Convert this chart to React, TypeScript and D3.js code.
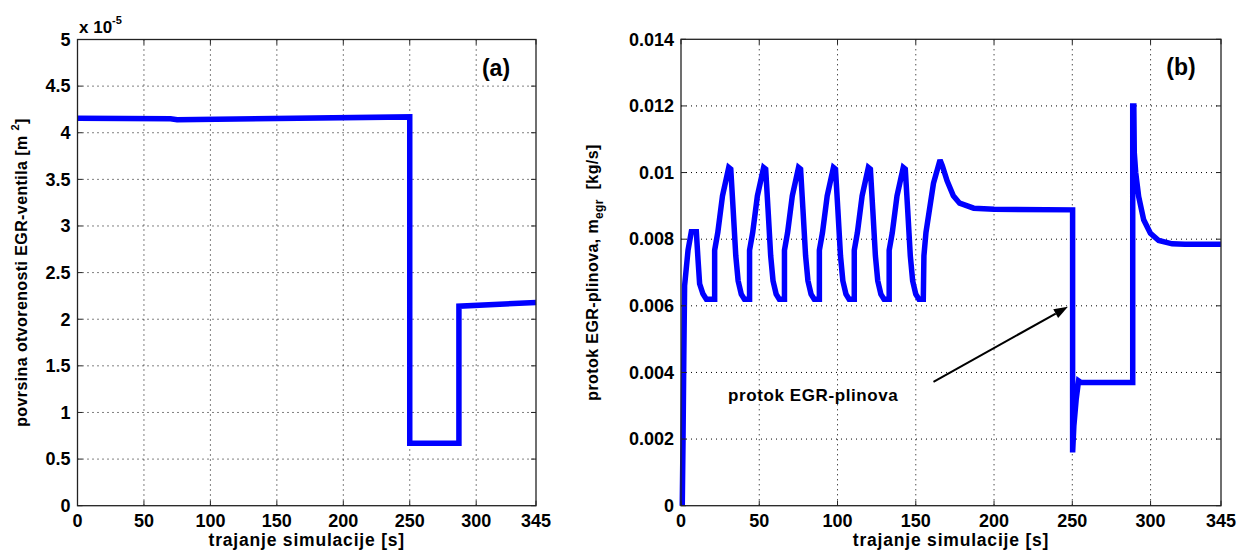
import React from "react";
import * as d3 from "d3";

// ---------- data ----------
const X_TICKS = [0, 50, 100, 150, 200, 250, 300, 345];
const A_Y_TICKS = [0, 0.5e-5, 1e-5, 1.5e-5, 2e-5, 2.5e-5, 3e-5, 3.5e-5, 4e-5, 4.5e-5, 5e-5];
const A_Y_LABELS = ["0", "0.5", "1", "1.5", "2", "2.5", "3", "3.5", "4", "4.5", "5"];
const B_Y_TICKS = [0, 0.002, 0.004, 0.006, 0.008, 0.01, 0.012, 0.014];
const B_Y_LABELS = ["0", "0.002", "0.004", "0.006", "0.008", "0.01", "0.012", "0.014"];

// panel (a): EGR valve opening area [m^2]
const aTime = [0, 70, 75, 250, 250, 287, 287, 345];
const aArea = [4.155e-5, 4.15e-5, 4.14e-5, 4.17e-5, 0.67e-5, 0.67e-5, 2.14e-5, 2.18e-5];

// panel (b): EGR mass flow [kg/s]
const bTime = [
  0.8, 1.3, 1.8, 2.3, 4.5, 6.6, 9.8, 10.9, 11.9, 14, 16.2, 21.5,
  21.5, 23.5, 26.5, 30.5, 31.8, 33.3, 35, 36.5, 38.5, 40.5, 43.8,
  43.8, 45.8, 48.8, 52.8, 54.1, 55.6, 57.3, 58.8, 60.8, 62.8, 66.1,
  66.1, 68.1, 71.1, 75.1, 76.4, 77.9, 79.6, 81.1, 83.1, 85.1, 88.4,
  88.4, 90.4, 93.4, 97.4, 98.7, 100.2, 101.9, 103.4, 105.4, 107.4, 110.7,
  110.7, 112.7, 115.7, 119.7, 121.0, 122.5, 124.2, 125.7, 127.7, 129.7, 133,
  133, 135, 138, 142, 143.3, 144.8, 146.5, 148, 150, 152, 154.8,
  155.2, 156.5, 161.3, 165.5, 167, 170, 174, 178, 187, 200, 250.2,
  250.2, 251, 252.5, 254, 255.5, 288.6,
  288.6, 289.3, 289.6, 290.5, 292.4, 295.6, 299.9, 305.2, 313.8, 322, 345,
];
const bFlow = [
  0, 0.002, 0.0045, 0.0066, 0.00767, 0.00822, 0.00822, 0.00737, 0.00666, 0.00636, 0.0062, 0.0062,
  0.00767, 0.0082, 0.0093, 0.01015, 0.0101, 0.0089, 0.0075, 0.00675, 0.00635, 0.0062, 0.0062,
  0.00767, 0.0082, 0.0093, 0.01015, 0.0101, 0.0089, 0.0075, 0.00675, 0.00635, 0.0062, 0.0062,
  0.00767, 0.0082, 0.0093, 0.01015, 0.0101, 0.0089, 0.0075, 0.00675, 0.00635, 0.0062, 0.0062,
  0.00767, 0.0082, 0.0093, 0.01015, 0.0101, 0.0089, 0.0075, 0.00675, 0.00635, 0.0062, 0.0062,
  0.00767, 0.0082, 0.0093, 0.01015, 0.0101, 0.0089, 0.0075, 0.00675, 0.00635, 0.0062, 0.0062,
  0.00767, 0.0082, 0.0093, 0.01015, 0.0101, 0.0089, 0.0075, 0.00675, 0.00635, 0.0062, 0.0062,
  0.0075, 0.0082, 0.00968, 0.01038, 0.0102, 0.00975, 0.0093, 0.00908, 0.00893, 0.0089, 0.00888,
  0.0016, 0.0024, 0.0032, 0.00375, 0.0037, 0.0037,
  0.012, 0.012, 0.0106, 0.01, 0.00928, 0.00858, 0.00818, 0.00796, 0.00786, 0.00785, 0.00785,
];

// annotation (data coords): tail -> head
const ARROW_FROM = [161.3, 0.00372];
const ARROW_TO = [247.2, 0.00597];
const ANNOT_TEXT = "protok EGR-plinova";
const ANNOT_POS = [30, 0.00332];

const FONT = "'Liberation Sans', Arial, Helvetica, sans-serif";

type PanelProps = {
  left: number; right: number; top: number; bottom: number;
  yDomain: [number, number];
  yTicks: number[]; yLabels: string[];
  xs: number[]; ys: number[];
  panelLabel: string;
  children?: (x: d3.ScaleLinear<number, number>, y: d3.ScaleLinear<number, number>) => React.ReactNode;
};

function Panel(p: PanelProps) {
  const x = d3.scaleLinear().domain([0, 345]).range([p.left, p.right]);
  const y = d3.scaleLinear().domain(p.yDomain).range([p.bottom, p.top]);
  const pts = p.xs.map((t, i) => [t, p.ys[i]] as [number, number]);
  const line = d3.line<[number, number]>().x((d) => x(d[0])).y((d) => y(d[1]));
  const tl = 5;
  return (
    <g>
      <rect x={p.left} y={p.top} width={p.right - p.left} height={p.bottom - p.top} fill="#fff" />
      {/* grid */}
      {X_TICKS.filter((t) => t > 0 && t < 345).map((t) => (
        <line key={"gx" + t} x1={x(t)} x2={x(t)} y1={p.top} y2={p.bottom}
          stroke="#000" strokeWidth={1} strokeDasharray="1,4" />
      ))}
      {p.yTicks.slice(1, -1).map((t) => (
        <line key={"gy" + t} x1={p.left} x2={p.right} y1={y(t)} y2={y(t)}
          stroke="#000" strokeWidth={1} strokeDasharray="1,4" />
      ))}
      {/* data */}
      <path d={line(pts) || ""} fill="none" stroke="#0000ff" strokeWidth={5.5}
        strokeLinejoin="miter" strokeMiterlimit={2} />
      {/* box */}
      <rect x={p.left} y={p.top} width={p.right - p.left} height={p.bottom - p.top}
        fill="none" stroke="#222" strokeWidth={1.3} />
      {/* ticks inward */}
      {X_TICKS.map((t) => (
        <g key={"tx" + t}>
          <line x1={x(t)} x2={x(t)} y1={p.bottom} y2={p.bottom - tl} stroke="#222" />
          <line x1={x(t)} x2={x(t)} y1={p.top} y2={p.top + tl} stroke="#222" />
          <text x={x(t)} y={p.bottom + 21} textAnchor="middle" fontSize={18}
            fontWeight="bold" fontFamily={FONT}>{t}</text>
        </g>
      ))}
      {p.yTicks.map((t, i) => (
        <g key={"ty" + t}>
          <line x1={p.left} x2={p.left + tl} y1={y(t)} y2={y(t)} stroke="#222" />
          <line x1={p.right} x2={p.right - tl} y1={y(t)} y2={y(t)} stroke="#222" />
          <text x={p.left - 7} y={y(t)} dy="0.35em" textAnchor="end" fontSize={18}
            fontWeight="bold" fontFamily={FONT}>{p.yLabels[i]}</text>
        </g>
      ))}
      <text x={(p.left + p.right) / 2} y={p.bottom + 40} textAnchor="middle" fontSize={17.5}
        fontWeight="bold" fontFamily={FONT} letterSpacing={0.8}>trajanje simulacije [s]</text>
      <text x={p.right - 40} y={p.top + 36} textAnchor="middle" fontSize={23}
        fontWeight="bold" fontFamily={FONT}>{p.panelLabel}</text>
      {p.children && p.children(x, y)}
    </g>
  );
}

export default function App() {
  const A = { left: 77.5, right: 536, top: 39.5, bottom: 505.7 };
  const B = { left: 681, right: 1221, top: 39.3, bottom: 505.7 };
  return (
    <svg width={1239} height={551} style={{ position: "absolute", left: 0, top: 0, background: "#fff" }}>
      <rect x={0} y={0} width={1239} height={551} fill="#fff" />
      <Panel {...A} yDomain={[0, 5e-5]} yTicks={A_Y_TICKS} yLabels={A_Y_LABELS}
        xs={aTime} ys={aArea} panelLabel="(a)" />
      <text x={79} y={33} fontSize={17} fontFamily={FONT} fontWeight="bold">
        x 10<tspan fontSize={11} dy={-9}>-5</tspan>
      </text>
      <text transform={`translate(27,${(A.top + A.bottom) / 2}) rotate(-90)`} textAnchor="middle"
        fontSize={16} fontWeight="bold" fontFamily={FONT} letterSpacing={0.4}>
        povrsina otvorenosti EGR-ventila [m <tspan fontSize={11} dy={-8}>2</tspan><tspan dy={8}>]</tspan>
      </text>

      <Panel {...B} yDomain={[0, 0.014]} yTicks={B_Y_TICKS} yLabels={B_Y_LABELS}
        xs={bTime} ys={bFlow} panelLabel="(b)">
        {(x, y) => {
          const x1 = x(ARROW_FROM[0]), y1 = y(ARROW_FROM[1]);
          const x2 = x(ARROW_TO[0]), y2 = y(ARROW_TO[1]);
          const ang = Math.atan2(y2 - y1, x2 - x1);
          const L = 14, W = 5;
          const bx = x2 - L * Math.cos(ang), by = y2 - L * Math.sin(ang);
          const head = [
            [x2, y2],
            [bx + W * Math.sin(ang), by - W * Math.cos(ang)],
            [bx - W * Math.sin(ang), by + W * Math.cos(ang)],
          ].map((q) => q.join(",")).join(" ");
          return (
            <g>
              <line x1={x1} y1={y1} x2={bx} y2={by} stroke="#000" strokeWidth={2} />
              <polygon points={head} fill="#000" />
              <text x={x(ANNOT_POS[0])} y={y(ANNOT_POS[1])} dy="0.35em" fontSize={17}
                fontWeight="bold" fontFamily={FONT} letterSpacing={0.6}>{ANNOT_TEXT}</text>
            </g>
          );
        }}
      </Panel>
      <text transform={`translate(598,${(B.top + B.bottom) / 2}) rotate(-90)`} textAnchor="middle"
        fontSize={16} fontWeight="bold" fontFamily={FONT} letterSpacing={0.4}>
        protok EGR-plinova,  m<tspan fontSize={12} dy={5}>egr</tspan><tspan dy={-5}>{"\u00a0\u00a0[kg/s]"}</tspan>
      </text>
    </svg>
  );
}
